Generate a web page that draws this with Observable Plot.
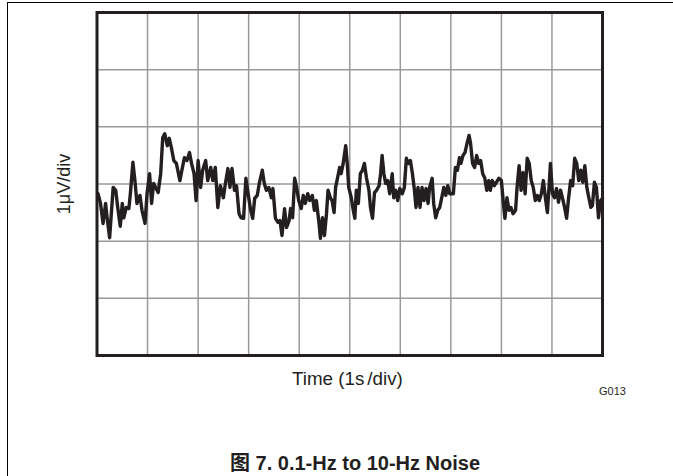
<!DOCTYPE html>
<html>
<head>
<meta charset="utf-8">
<script src="https://cdn.jsdelivr.net/npm/d3@7"></script>
<script src="https://cdn.jsdelivr.net/npm/@observablehq/plot@0.6"></script>
<style>
  html, body { margin: 0; padding: 0; background: #fff; overflow: hidden; }
  #wrap { position: relative; width: 673px; height: 476px; font-family: "Liberation Sans", Arial, sans-serif; color: #231f20; }
  #border { position: absolute; left: 7px; top: 2px; width: 720px; height: 520px; border-left: 1.5px solid #000; border-top: 1.5px solid #000; }
  #chart { position: absolute; left: 0; top: 0; }
  .lbl { position: absolute; white-space: nowrap; }
  #xlab { left: 292px; top: 368px; font-size: 18.8px; }
  #xlab .sl { margin-left: 3px; }
  #ylab { left: 64px; top: 184px; font-size: 18px; transform: translate(-50%, -50%) rotate(-90deg); }
  #gid { left: 599px; top: 385px; font-size: 11px; }
  #title { left: 230px; top: 447px; font-size: 20px; font-weight: bold; font-family: "Liberation Sans", Arial, "Noto Sans CJK SC", sans-serif; }
</style>
</head>
<body>
<div id="wrap">
  <div id="border"></div>
  <div id="chart"></div>
  <div class="lbl" id="xlab">Time (1s<span class="sl">/div)</span></div>
  <div class="lbl" id="ylab">1μV/div</div>
  <div class="lbl" id="gid">G013</div>
  <div class="lbl" id="title">图 7. 0.1-Hz to 10-Hz Noise</div>
</div>
<script>
// Time (s), 1 s per division
const timeS = [0.02,0.07,0.12,0.17,0.20,0.25,0.32,0.37,0.41,0.46,0.50,0.53,0.58,0.63,0.66,0.71,0.75,0.79,0.85,0.89,0.95,0.99,1.04,1.08,1.12,1.16,1.21,1.26,1.30,1.34,1.39,1.43,1.47,1.52,1.57,1.64,1.69,1.73,1.78,1.83,1.87,1.92,1.96,2.00,2.05,2.09,2.15,2.19,2.25,2.29,2.34,2.39,2.44,2.50,2.54,2.59,2.63,2.67,2.72,2.76,2.81,2.85,2.90,2.945,2.99,3.04,3.08,3.12,3.17,3.21,3.27,3.31,3.35,3.40,3.45,3.48,3.53,3.58,3.62,3.66,3.71,3.75,3.80,3.83,3.87,3.91,3.95,3.99,4.04,4.08,4.12,4.17,4.21,4.26,4.30,4.34,4.39,4.42,4.46,4.50,4.54,4.57,4.62,4.65,4.69,4.72,4.76,4.80,4.83,4.87,4.92,4.95,4.98,5.03,5.07,5.10,5.13,5.17,5.21,5.25,5.29,5.33,5.38,5.41,5.45,5.49,5.53,5.58,5.61,5.64,5.675,5.71,5.75,5.79,5.84,5.87,5.91,5.95,5.99,6.04,6.08,6.12,6.16,6.20,6.24,6.28,6.31,6.35,6.39,6.43,6.47,6.51,6.55,6.58,6.63,6.66,6.70,6.74,6.78,6.82,6.86,6.90,6.94,6.98,7.05,7.09,7.13,7.17,7.20,7.24,7.28,7.32,7.36,7.39,7.43,7.47,7.51,7.55,7.59,7.63,7.67,7.71,7.75,7.78,7.82,7.86,7.90,7.95,8.00,8.04,8.07,8.11,8.15,8.19,8.23,8.28,8.31,8.35,8.39,8.43,8.47,8.51,8.55,8.59,8.63,8.67,8.71,8.75,8.79,8.83,8.87,8.91,8.95,8.97,9.01,9.05,9.09,9.13,9.17,9.21,9.25,9.29,9.33,9.37,9.41,9.45,9.49,9.53,9.57,9.61,9.65,9.69,9.73,9.77,9.80,9.84,9.88,9.92,9.96,10.0];
// Noise voltage (µV), 1 µV per division
const noiseUV = [-0.17,-0.34,-0.69,-0.34,-0.59,-0.94,-0.06,-0.11,-0.41,-0.74,-0.34,-0.59,-0.41,-0.43,-0.17,0.38,0.06,-0.34,-0.20,-0.46,-0.69,-0.17,0.18,-0.34,0.01,-0.06,-0.15,0.18,0.81,0.88,0.67,0.80,0.64,0.41,0.36,0.06,0.29,0.46,0.41,0.55,0.36,0.18,-0.29,0.41,-0.06,0.24,0.41,0.06,0.29,0.06,0.29,-0.41,-0.03,-0.24,0.01,0.27,-0.06,0.27,-0.11,-0.03,-0.52,-0.59,-0.60,0.10,-0.17,-0.46,-0.60,-0.25,-0.20,0.01,0.24,0.01,-0.11,-0.06,-0.24,-0.08,-0.60,-0.67,-0.64,-0.90,-0.43,-0.76,-0.64,-0.43,-0.59,0.10,-0.06,-0.29,-0.43,-0.20,-0.34,-0.17,-0.29,-0.20,-0.46,-0.29,-0.67,-0.95,-0.59,-0.90,-0.52,-0.11,-0.25,-0.29,-0.50,-0.06,0.11,0.29,0.18,0.36,0.67,0.36,-0.06,-0.24,-0.46,-0.60,-0.11,-0.34,0.18,0.24,0.36,0.11,-0.11,-0.41,-0.60,-0.15,-0.11,-0.03,0.18,0.50,0.18,0.01,0.06,-0.17,0.18,-0.24,-0.11,-0.29,-0.08,-0.17,-0.06,0.45,0.36,0.41,0.18,-0.11,-0.41,-0.06,-0.41,-0.06,-0.29,-0.08,-0.34,-0.06,0.10,-0.34,-0.59,-0.46,-0.41,-0.24,-0.06,-0.20,-0.03,-0.17,-0.17,0.29,0.24,0.46,0.36,0.50,0.55,0.71,0.85,0.71,0.36,0.29,0.50,0.36,0.41,0.18,0.11,-0.11,0.06,-0.11,0.06,-0.03,0.03,0.10,0.06,-0.34,-0.60,-0.24,-0.46,-0.41,-0.52,-0.46,-0.06,0.32,-0.11,0.20,-0.17,0.45,0.36,0.06,-0.06,-0.29,-0.20,-0.29,-0.17,0.06,-0.24,-0.50,0.06,0.36,-0.17,-0.24,-0.08,-0.32,-0.11,-0.25,-0.41,-0.60,-0.24,0.06,-0.03,0.45,0.36,0.06,0.24,0.03,0.32,-0.06,-0.24,-0.41,-0.38,0.03,-0.06,-0.59,-0.29,-0.25];
// Grid divisions
const xGrid = [1,2,3,4,5,6,7,8,9];
const yGrid = [-2,-1,0,1,2];

const data = timeS.map((t, i) => ({t, v: noiseUV[i]}));

const chart = Plot.plot({
  width: 673,
  height: 476,
  marginLeft: 96.5,
  marginRight: 71,
  marginTop: 12,
  marginBottom: 121,
  x: {domain: [0, 10], axis: null},
  y: {domain: [-3, 3], axis: null},
  marks: [
    Plot.gridX(xGrid, {stroke: "#9a9a9a", strokeOpacity: 1, strokeWidth: 1.5}),
    Plot.gridY(yGrid, {stroke: "#9a9a9a", strokeOpacity: 1, strokeWidth: 1.5}),
    Plot.line(data, {x: "t", y: "v", stroke: "#231f20", strokeWidth: 3.4, strokeLinejoin: "round", strokeLinecap: "round"}),
    Plot.frame({stroke: "#231f20", strokeWidth: 3})
  ]
});
document.getElementById("chart").appendChild(chart);
</script>
</body>
</html>
